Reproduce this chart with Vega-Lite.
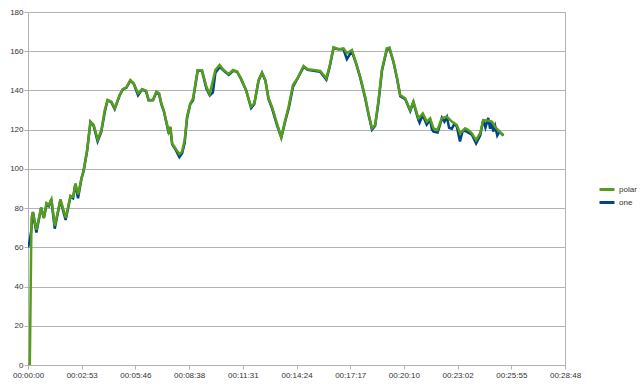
{
  "$schema": "https://vega.github.io/schema/vega-lite/v6.json",
  "width": 537,
  "height": 353,
  "autosize": {"type": "none"},
  "padding": {"left": 28, "top": 12, "right": 75, "bottom": 22},
  "background": "white",
  "config": {
    "font": "Liberation Sans",
    "view": {"stroke": "#b3b3b3", "strokeWidth": 1},
    "axis": {"labelFont": "Liberation Sans", "labelFontSize": 8, "labelColor": "#333333", "domainColor": "#b3b3b3", "tickColor": "#b3b3b3", "gridColor": "#b3b3b3", "tickSize": 4, "title": null}
  },
  "datasets": {
    "polar": [
      [0,0],[5.8,0],[11.3,75],[15.4,78],[27.3,69],[42.4,80.4],[50.8,75],[59.5,82.6],[66.9,81.6],[75.5,84.5],[86.2,71],[104.5,84.5],[121.5,75],[136.6,86.2],[145.3,85.8],[152.7,92.6],[161.4,87],[172,95.2],[179.4,99.4],[190.3,109.6],[200.9,124.1],[211.5,122.4],[224.4,115],[236.3,119.8],[246.9,130],[256.5,135.1],[268.4,134.3],[279.1,131],[295.1,137.7],[304.8,140.6],[316.7,141.6],[329.5,145.3],[340.1,143.6],[354.3,138.5],[367.1,140.6],[380,139.9],[388.4,135.1],[402.5,135.1],[413.1,139.4],[421.8,138.5],[429.2,133.4],[436.6,130],[452.7,119],[458.1,121.5],[463.6,113],[474.2,110.5],[487.1,107.5],[495.7,108.8],[504.1,114.7],[511.8,126.6],[522.4,133.4],[531.1,136],[545.9,150.4],[560,150.1],[573.9,142],[584.5,138.2],[595.4,145.3],[602.8,150.4],[616.6,153],[629.5,150.4],[645.5,148.4],[659.7,150.4],[672.6,149.6],[685.4,146.2],[701.5,140.2],[717.6,131.7],[728.2,133.4],[742,145.3],[752.9,149],[763.5,145.3],[774.2,136],[785.1,131.7],[801.2,123.2],[815,116.1],[827.8,124.9],[838.5,131.7],[852.6,142.8],[867.4,146.2],[886.7,152.5],[899.5,150.8],[918.8,150.4],[940.4,149.9],[959.7,146.2],[970.3,152.1],[983.1,162],[999.2,161],[1015.3,161.5],[1026.2,159],[1042.3,160.6],[1056.1,153.9],[1069,147],[1085,136.8],[1095.6,128.3],[1106.6,120.7],[1117.2,122.4],[1127.8,135.1],[1138.7,150.4],[1154.8,161.5],[1163.2,161.8],[1176,154.7],[1186.9,147],[1197.5,137.7],[1213.6,136],[1229.7,130],[1240.3,134.3],[1256.4,125.8],[1270.5,128.3],[1283.4,124.1],[1294,125.8],[1304.6,120.7],[1317.5,119.8],[1331.6,125.8],[1347.7,126.6],[1363.8,124.1],[1379.8,122.4],[1390.4,118.2],[1406.5,120.7],[1417.1,119.8],[1428.1,118.2],[1441.9,114.7],[1454.7,118.2],[1465.3,124.9],[1481.4,124.6],[1492.3,124.1],[1503,121.5],[1516.8,119],[1529.6,117.3]
    ],
    "one": [
      [0,60],[5,63],[10,68],[16,78],[27,67.5],[42,80],[51,75],[60,82],[67,81],[75,84.5],[86,69.5],[104,84],[121,74],[137,86],[145,85],[152,92],[161,85],[172,95],[179,99],[190,109],[201,124],[211,122],[224,114],[236,119],[247,129],[256,135],[268,134],[279,130.5],[295,137.5],[305,140.5],[317,141.5],[329,145],[340,143.5],[354,137.5],[367,140.5],[380,139.5],[388,135],[402,135],[413,139],[422,138],[429,133],[437,129.5],[453,118],[458,121],[464,112.5],[474,110],[487,106],[496,108],[504,113],[512,126],[522,133],[531,135],[546,150],[560,150],[574,141],[585,137.5],[595,139],[603,149],[617,152],[630,150],[646,148],[660,150],[673,149.5],[685,146],[702,140],[718,131],[728,133],[742,145],[753,149],[764,145],[774,135.5],[785,131],[801,122.5],[815,116],[828,124.5],[839,131],[853,142],[867,146],[887,152],[900,150.5],[919,150],[940,149.5],[960,145.5],[970,151.5],[983,161.5],[999,161],[1015,161],[1026,156],[1042,160],[1056,153.5],[1069,146.5],[1085,136],[1096,127.5],[1107,120],[1117,122],[1128,134],[1139,150],[1155,161],[1163,161.5],[1176,154.5],[1187,146.5],[1198,137],[1214,135.5],[1230,129.5],[1240,134],[1256,125],[1260,123.5],[1270,127.5],[1283,122.5],[1294,125],[1300,120],[1305,119],[1318,118.5],[1325,122],[1332,126],[1340,124],[1348,126.5],[1355,121],[1364,120.5],[1372,123],[1380,121.5],[1390,114],[1398,119],[1406,119.5],[1417,118.5],[1428,117.5],[1442,113],[1455,117],[1465,125],[1472,121],[1481,126],[1487,120.5],[1492,124],[1497,119],[1503,122],[1510,117],[1517,119],[1530,117]
    ]
  },
  "encoding": {
    "x": {"field": "t", "type": "quantitative", "scale": {"domain": [0, 1728], "nice": false, "zero": false},
      "axis": {"values": [0,172.8,345.6,518.4,691.2,864,1036.8,1209.6,1382.4,1555.2,1728], "tickCount": 30, "labelExpr": "utcFormat(round(datum.value)*1000, '%H:%M:%S')", "grid": false, "labelPadding": 2, "labelFlush": false, "labelOverlap": false}},
    "y": {"field": "v", "type": "quantitative", "scale": {"domain": [0, 180], "nice": false, "zero": true},
      "axis": {"values": [0,20,40,60,80,100,120,140,160,180], "tickCount": 30, "grid": true, "labelPadding": 1, "domain": true, "labelOverlap": false, "labelFlush": false}},
    "color": {"field": "series", "type": "nominal", "scale": {"domain": ["polar", "one"], "range": ["#579d1c", "#004586"]},
      "legend": {"title": null, "orient": "none", "legendX": 572.5, "legendY": 171, "symbolType": "M-1.5,0H1.5", "symbolStrokeWidth": 3, "symbolSize": 100, "labelOffset": 5.5, "labelFontSize": 8, "labelColor": "#333333", "labelFont": "Liberation Sans", "rowPadding": -7, "padding": 0}}
  },
  "layer": [
    {
      "data": {"name": "one"},
      "transform": [
        {"calculate": "datum[0]", "as": "t"},
        {"calculate": "datum[1]", "as": "v"},
        {"calculate": "'one'", "as": "series"}
      ],
      "mark": {"type": "line", "strokeWidth": 2.5, "clip": true}
    },
    {
      "data": {"name": "polar"},
      "transform": [
        {"calculate": "datum[0]", "as": "t"},
        {"calculate": "datum[1]", "as": "v"},
        {"calculate": "'polar'", "as": "series"}
      ],
      "mark": {"type": "line", "strokeWidth": 2.5, "clip": true}
    }
  ]
}
